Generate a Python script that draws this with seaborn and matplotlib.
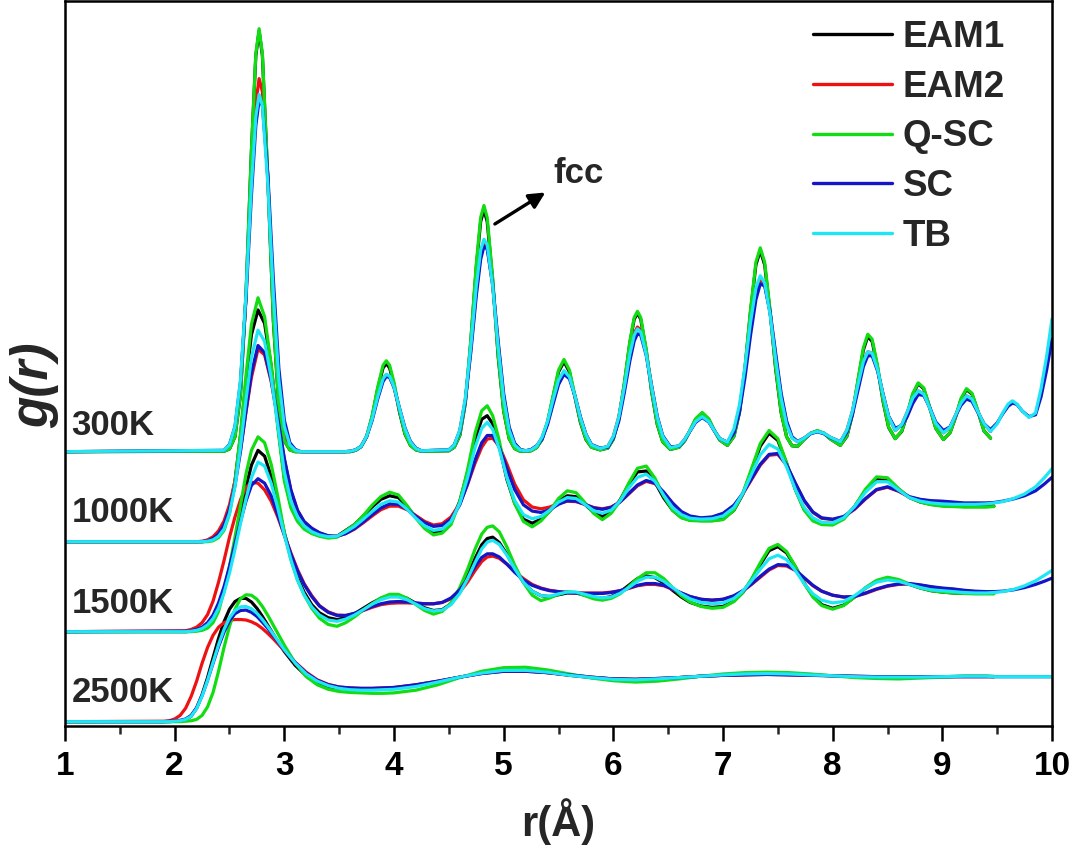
import numpy as np
import pandas as pd
import matplotlib
matplotlib.use("Agg")
import matplotlib.pyplot as plt
import seaborn as sns
from matplotlib.lines import Line2D

potentials = ["EAM1", "EAM2", "Q-SC", "SC", "TB"]
temperatures = ["300K", "1000K", "1500K", "2500K"]
offsets = {"300K": 6, "1000K": 4, "1500K": 2, "2500K": 0}
colors = {"EAM1": "#000000", "EAM2": "#ee1111", "Q-SC": "#12dc12",
          "SC": "#1515c8", "TB": "#1ee6f5"}

# ---------------- 300 K ----------------
r_300 = [1.0, 2.45, 2.5, 2.55, 2.6, 2.65, 2.7, 2.74, 2.77, 2.8, 2.85, 2.9, 2.95, 3.0, 3.05, 3.1, 3.15,
         3.55, 3.6, 3.65, 3.7, 3.75, 3.8, 3.85, 3.9, 3.93, 3.96, 4.0, 4.05, 4.1, 4.15, 4.2, 4.25,
         4.5, 4.55, 4.6, 4.65, 4.7, 4.75, 4.79, 4.82, 4.85, 4.9, 4.95, 5.0, 5.05, 5.1, 5.15, 5.2, 5.25, 5.3,
         5.35, 5.4, 5.45, 5.5, 5.55, 5.6, 5.65, 5.7, 5.75, 5.8, 5.88,
         5.95, 6.0, 6.05, 6.1, 6.15, 6.19, 6.22, 6.25, 6.3, 6.35, 6.4, 6.45, 6.52,
         6.6, 6.65, 6.7, 6.75, 6.81, 6.87, 6.92, 6.97, 7.04,
         7.1, 7.15, 7.2, 7.25, 7.3, 7.34, 7.38, 7.43, 7.48, 7.53, 7.58, 7.63, 7.68,
         7.74, 7.8, 7.86, 7.92, 7.98, 8.07,
         8.13, 8.18, 8.23, 8.28, 8.32, 8.36, 8.41, 8.46, 8.51, 8.57,
         8.63, 8.68, 8.73, 8.78, 8.83, 8.88, 8.94, 9.01,
         9.07, 9.12, 9.17, 9.22, 9.27, 9.32, 9.38, 9.44,
         9.5, 9.55, 9.6, 9.64, 9.68, 9.73, 9.79, 9.85, 9.9, 9.95, 10.0]

g300_eam1 = [0, 0.01, 0.06, 0.33, 1.26, 3.46, 6.68, 8.80, 9.35, 8.80, 6.02, 2.90, 0.99, 0.24, 0.04, 0.0, 0.0,
             0, 0.0, 0.03, 0.11, 0.33, 0.77, 1.38, 1.86, 1.96, 1.86, 1.49, 0.88, 0.39, 0.14, 0.04, 0.01,
             0.02, 0.10, 0.36, 1.07, 2.43, 4.09, 5.11, 5.38, 5.11, 3.79, 2.11, 0.90, 0.29, 0.07, 0.01, 0.01, 0.02, 0.09,
             0.27, 0.65, 1.21, 1.77, 2.00, 1.77, 1.21, 0.65, 0.27, 0.10, 0.04,
             0.08, 0.28, 0.73, 1.50, 2.41, 2.94, 3.08, 2.94, 2.24, 1.32, 0.61, 0.22, 0.05,
             0.10, 0.24, 0.47, 0.72, 0.86, 0.72, 0.47, 0.26, 0.14,
             0.34, 0.87, 1.84, 3.09, 4.15, 4.47, 4.15, 3.09, 1.84, 0.87, 0.33, 0.13, 0.12,
             0.27, 0.41, 0.46, 0.41, 0.28, 0.14,
             0.34, 0.83, 1.56, 2.26, 2.56, 2.45, 1.86, 1.11, 0.54, 0.29,
             0.45, 0.83, 1.27, 1.51, 1.40, 1.02, 0.52, 0.27,
             0.42, 0.76, 1.16, 1.38, 1.28, 0.93, 0.46, 0.30]

g300_eam2 = [0, 0.02, 0.11, 0.47, 1.47, 3.43, 6.03, 7.74, 8.29, 8.00, 6.03, 3.43, 1.47, 0.47, 0.11, 0.02, 0.0,
             0, 0.01, 0.04, 0.12, 0.34, 0.72, 1.21, 1.62, 1.71, 1.67, 1.43, 0.95, 0.50, 0.20, 0.07, 0.02,
             0.04, 0.15, 0.47, 1.15, 2.27, 3.57, 4.38, 4.64, 4.55, 3.69, 2.39, 1.23, 0.51, 0.17, 0.05, 0.02, 0.04, 0.12,
             0.31, 0.65, 1.12, 1.56, 1.78, 1.65, 1.24, 0.76, 0.38, 0.15, 0.07,
             0.12, 0.34, 0.78, 1.45, 2.19, 2.63, 2.77, 2.70, 2.19, 1.45, 0.78, 0.34, 0.09,
             0.13, 0.27, 0.47, 0.67, 0.78, 0.67, 0.47, 0.29, 0.21,
             0.46, 0.96, 1.76, 2.72, 3.51, 3.83, 3.72, 3.07, 2.12, 1.24, 0.64, 0.31, 0.22,
             0.30, 0.41, 0.45, 0.41, 0.32, 0.22,
             0.48, 0.90, 1.48, 2.00, 2.22, 2.19, 1.82, 1.26, 0.78, 0.47,
             0.60, 0.88, 1.19, 1.35, 1.28, 1.00, 0.63, 0.42,
             0.54, 0.81, 1.08, 1.24, 1.17, 0.91, 0.62, 0.45]

g300_qsc = [0, 0.01, 0.06, 0.33, 1.27, 3.48, 6.71, 8.84, 9.40, 8.84, 6.05, 2.92, 1.00, 0.24, 0.04, 0.0, 0.0,
            0, 0.0, 0.03, 0.11, 0.34, 0.79, 1.42, 1.92, 2.02, 1.92, 1.54, 0.91, 0.40, 0.14, 0.04, 0.01,
            0.02, 0.10, 0.37, 1.09, 2.47, 4.16, 5.20, 5.47, 5.20, 3.85, 2.14, 0.91, 0.29, 0.07, 0.01, 0.01, 0.02, 0.09,
            0.28, 0.67, 1.24, 1.81, 2.05, 1.81, 1.24, 0.67, 0.28, 0.10, 0.04,
            0.08, 0.28, 0.74, 1.52, 2.44, 2.98, 3.12, 2.98, 2.27, 1.34, 0.62, 0.22, 0.05,
            0.10, 0.24, 0.48, 0.73, 0.87, 0.73, 0.48, 0.26, 0.14,
            0.34, 0.88, 1.87, 3.13, 4.21, 4.53, 4.21, 3.13, 1.87, 0.88, 0.33, 0.13, 0.12,
            0.27, 0.41, 0.47, 0.41, 0.28, 0.14,
            0.35, 0.85, 1.59, 2.31, 2.61, 2.50, 1.90, 1.13, 0.55, 0.29,
            0.46, 0.84, 1.29, 1.53, 1.42, 1.03, 0.52, 0.27,
            0.42, 0.77, 1.18, 1.40, 1.30, 0.94, 0.46, 0.30]

g300_sc = [0, 0.03, 0.16, 0.56, 1.55, 3.38, 5.70, 7.25, 7.81, 7.69, 6.15, 3.82, 1.85, 0.70, 0.20, 0.05, 0.0,
           0, 0.01, 0.04, 0.12, 0.33, 0.69, 1.16, 1.56, 1.67, 1.65, 1.43, 0.97, 0.53, 0.23, 0.08, 0.02,
           0.04, 0.15, 0.45, 1.12, 2.20, 3.46, 4.27, 4.56, 4.50, 3.71, 2.45, 1.29, 0.55, 0.19, 0.05, 0.02, 0.05, 0.13,
           0.28, 0.60, 1.05, 1.49, 1.72, 1.62, 1.24, 0.77, 0.39, 0.16, 0.08,
           0.10, 0.30, 0.68, 1.31, 2.01, 2.46, 2.62, 2.59, 2.14, 1.45, 0.79, 0.36, 0.11,
           0.12, 0.26, 0.46, 0.65, 0.76, 0.66, 0.47, 0.29, 0.21,
           0.41, 0.88, 1.64, 2.57, 3.38, 3.73, 3.68, 3.10, 2.19, 1.30, 0.68, 0.33, 0.23,
           0.30, 0.40, 0.44, 0.40, 0.31, 0.22,
           0.43, 0.82, 1.36, 1.89, 2.13, 2.13, 1.79, 1.28, 0.79, 0.52,
           0.58, 0.78, 1.07, 1.27, 1.25, 1.01, 0.66, 0.47,
           0.55, 0.79, 1.03, 1.17, 1.12, 0.89, 0.62, 0.49,
           0.64, 0.84, 1.01, 1.08, 1.05, 0.90, 0.78, 0.82, 1.22, 1.80, 2.50]

g300_tb = [0, 0.03, 0.15, 0.56, 1.59, 3.50, 5.92, 7.45, 7.94, 7.69, 5.92, 3.50, 1.59, 0.56, 0.15, 0.03, 0.0,
           0, 0.01, 0.04, 0.12, 0.34, 0.72, 1.21, 1.62, 1.72, 1.68, 1.44, 0.96, 0.51, 0.21, 0.07, 0.02,
           0.04, 0.15, 0.48, 1.18, 2.33, 3.67, 4.48, 4.72, 4.60, 3.67, 2.33, 1.18, 0.48, 0.15, 0.04, 0.02, 0.04, 0.12,
           0.32, 0.67, 1.15, 1.59, 1.80, 1.66, 1.24, 0.75, 0.38, 0.15, 0.07,
           0.12, 0.34, 0.77, 1.43, 2.16, 2.59, 2.73, 2.66, 2.16, 1.43, 0.77, 0.34, 0.09,
           0.13, 0.27, 0.47, 0.67, 0.78, 0.67, 0.47, 0.29, 0.21,
           0.51, 1.04, 1.88, 2.86, 3.64, 3.91, 3.75, 3.04, 2.06, 1.19, 0.60, 0.30, 0.22,
           0.30, 0.41, 0.45, 0.41, 0.32, 0.22,
           0.48, 0.90, 1.48, 2.00, 2.22, 2.19, 1.82, 1.26, 0.78, 0.47,
           0.60, 0.88, 1.19, 1.35, 1.28, 1.00, 0.63, 0.42,
           0.54, 0.81, 1.08, 1.24, 1.17, 0.91, 0.62, 0.45,
           0.62, 0.86, 1.06, 1.13, 1.06, 0.90, 0.76, 0.86, 1.40, 2.10, 2.95]

# ---------------- 1000 K and 1500 K ----------------
r_hot = [1.0, 2.1, 2.15, 2.2, 2.25, 2.3, 2.35, 2.4, 2.45, 2.5, 2.55, 2.6, 2.65, 2.7,
         2.76, 2.82, 2.88, 2.94, 3.0, 3.06, 3.12, 3.18, 3.25, 3.32, 3.4, 3.48,
         3.56, 3.64, 3.72, 3.8, 3.88, 3.96, 4.04, 4.12, 4.2, 4.28, 4.36, 4.44, 4.52, 4.6,
         4.67, 4.74, 4.8, 4.85, 4.9, 4.96, 5.03, 5.1, 5.18, 5.26, 5.34, 5.42,
         5.5, 5.58, 5.66, 5.74, 5.82, 5.9, 5.98, 6.06, 6.14, 6.22, 6.3, 6.38,
         6.46, 6.54, 6.62, 6.7, 6.8, 6.9, 7.0, 7.1, 7.18, 7.26, 7.34, 7.42,
         7.5, 7.58, 7.66, 7.74, 7.82, 7.9, 8.0, 8.1, 8.2, 8.3, 8.4, 8.5,
         8.6, 8.7, 8.8, 8.9, 9.0, 9.1, 9.2, 9.3, 9.4, 9.47,
         9.55, 9.65, 9.75, 9.85, 9.93, 10.0]

g1000_eam1 = [0, 0, 0, 0, 0, 0.01, 0.04, 0.12, 0.3, 0.68, 1.35, 2.35, 3.55, 4.6,
              5.15, 4.85, 3.9, 2.6, 1.42, 0.8, 0.48, 0.31, 0.2, 0.14, 0.1, 0.12,
              0.25, 0.38, 0.57, 0.77, 0.94, 1.02, 0.98, 0.78, 0.53, 0.33, 0.2, 0.24, 0.43, 0.9,
              1.53, 2.28, 2.72, 2.8, 2.62, 2.12, 1.38, 0.86, 0.5, 0.41, 0.5, 0.68,
              0.9, 1.02, 1.0, 0.83, 0.65, 0.56, 0.67, 0.92, 1.27, 1.55, 1.57, 1.32,
              0.97, 0.7, 0.54, 0.48, 0.47, 0.47, 0.5, 0.7, 1.05, 1.58, 2.12, 2.41,
              2.25, 1.74, 1.16, 0.72, 0.48, 0.4, 0.39, 0.51, 0.78, 1.14, 1.4, 1.39,
              1.17, 0.98, 0.88, 0.83, 0.8, 0.79, 0.78, 0.78, 0.78, 0.79]

g1000_eam2 = [0, 0, 0, 0, 0.01, 0.04, 0.11, 0.24, 0.46, 0.82, 1.35, 2.05, 2.88, 3.65,
              4.28, 4.15, 3.56, 2.72, 1.83, 1.13, 0.69, 0.44, 0.29, 0.19, 0.13, 0.12,
              0.18, 0.28, 0.42, 0.57, 0.71, 0.79, 0.79, 0.71, 0.58, 0.45, 0.37, 0.4, 0.55, 0.85,
              1.27, 1.75, 2.1, 2.28, 2.3, 2.12, 1.72, 1.28, 0.93, 0.77, 0.73, 0.77,
              0.85, 0.9, 0.89, 0.83, 0.76, 0.73, 0.77, 0.88, 1.06, 1.24, 1.34, 1.29,
              1.09, 0.85, 0.66, 0.56, 0.52, 0.54, 0.62, 0.8, 1.06, 1.38, 1.7, 1.92,
              1.94, 1.7, 1.29, 0.91, 0.65, 0.52, 0.49, 0.55, 0.72, 0.95, 1.15, 1.21,
              1.12, 0.99, 0.93, 0.9, 0.89, 0.87, 0.85, 0.85, 0.85, 0.86]

g1000_qsc = [0, 0, 0, 0, 0, 0, 0.02, 0.09, 0.25, 0.62, 1.32, 2.39, 3.68, 4.83,
             5.42, 5.0, 3.94, 2.55, 1.35, 0.75, 0.45, 0.28, 0.18, 0.12, 0.08, 0.1,
             0.24, 0.38, 0.58, 0.81, 1.0, 1.1, 1.04, 0.8, 0.52, 0.29, 0.15, 0.19, 0.38, 0.89,
             1.59, 2.42, 2.91, 3.02, 2.8, 2.24, 1.42, 0.85, 0.45, 0.33, 0.46, 0.68,
             0.96, 1.13, 1.09, 0.87, 0.63, 0.49, 0.63, 0.9, 1.3, 1.63, 1.68, 1.41,
             1.01, 0.7, 0.53, 0.47, 0.46, 0.46, 0.49, 0.7, 1.07, 1.62, 2.18, 2.47,
             2.29, 1.75, 1.15, 0.7, 0.46, 0.38, 0.37, 0.5, 0.78, 1.17, 1.44, 1.42,
             1.18, 0.98, 0.88, 0.82, 0.79, 0.78, 0.77, 0.77, 0.77, 0.78]

g1000_sc = [0, 0, 0, 0, 0, 0.02, 0.07, 0.17, 0.37, 0.72, 1.25, 2.0, 2.9, 3.75,
            4.36, 4.2, 3.6, 2.75, 1.85, 1.15, 0.7, 0.45, 0.3, 0.2, 0.13, 0.12,
            0.18, 0.29, 0.44, 0.6, 0.75, 0.84, 0.83, 0.72, 0.56, 0.42, 0.34, 0.36, 0.5, 0.82,
            1.28, 1.82, 2.2, 2.36, 2.36, 2.1, 1.62, 1.16, 0.82, 0.68, 0.65, 0.71,
            0.83, 0.91, 0.9, 0.83, 0.75, 0.72, 0.76, 0.88, 1.07, 1.26, 1.36, 1.3,
            1.1, 0.86, 0.67, 0.57, 0.53, 0.55, 0.63, 0.81, 1.07, 1.4, 1.72, 1.94,
            1.96, 1.71, 1.3, 0.92, 0.66, 0.53, 0.5, 0.56, 0.73, 0.96, 1.16, 1.22,
            1.13, 1.0, 0.94, 0.91, 0.9, 0.88, 0.86, 0.86, 0.86, 0.87,
            0.9, 0.95, 1.02, 1.13, 1.28, 1.43]

g1000_tb = [0, 0, 0, 0, 0, 0.01, 0.04, 0.12, 0.28, 0.63, 1.22, 2.1, 3.15, 4.1,
            4.7, 4.45, 3.65, 2.6, 1.55, 0.9, 0.55, 0.35, 0.22, 0.15, 0.11, 0.12,
            0.22, 0.34, 0.5, 0.67, 0.83, 0.91, 0.88, 0.72, 0.52, 0.35, 0.25, 0.28, 0.45, 0.85,
            1.42, 2.1, 2.52, 2.65, 2.5, 2.06, 1.42, 0.92, 0.6, 0.51, 0.56, 0.7,
            0.88, 0.98, 0.96, 0.83, 0.69, 0.63, 0.7, 0.9, 1.19, 1.43, 1.5, 1.34,
            1.03, 0.76, 0.6, 0.52, 0.5, 0.51, 0.57, 0.76, 1.07, 1.5, 1.93, 2.16,
            2.06, 1.66, 1.16, 0.76, 0.53, 0.43, 0.42, 0.53, 0.78, 1.1, 1.33, 1.33,
            1.15, 0.98, 0.9, 0.86, 0.84, 0.83, 0.83, 0.83, 0.84, 0.86,
            0.89, 0.96, 1.06, 1.22, 1.42, 1.62]

g1500_eam1 = [0, 0, 0.01, 0.03, 0.07, 0.15, 0.3, 0.55, 0.92, 1.4, 1.98, 2.6, 3.2, 3.7,
              4.03, 3.9, 3.45, 2.85, 2.2, 1.65, 1.2, 0.88, 0.6, 0.42, 0.31, 0.27,
              0.31, 0.4, 0.52, 0.64, 0.74, 0.8, 0.8, 0.74, 0.63, 0.53, 0.47, 0.49, 0.62, 0.9,
              1.24, 1.63, 1.93, 2.07, 2.1, 1.98, 1.72, 1.4, 1.1, 0.9, 0.8, 0.78,
              0.82, 0.86, 0.86, 0.81, 0.76, 0.74, 0.78, 0.88, 1.03, 1.18, 1.24, 1.2,
              1.08, 0.92, 0.77, 0.65, 0.57, 0.54, 0.56, 0.68, 0.87, 1.15, 1.49, 1.8,
              1.89, 1.75, 1.44, 1.08, 0.79, 0.6, 0.52, 0.59, 0.77, 0.97, 1.12, 1.18,
              1.14, 1.05, 0.97, 0.91, 0.88, 0.86, 0.85, 0.85, 0.85, 0.85]

g1500_eam2 = [0, 0.02, 0.05, 0.1, 0.2, 0.38, 0.68, 1.1, 1.58, 2.1, 2.55, 2.93, 3.2, 3.32,
              3.3, 3.15, 2.9, 2.55, 2.15, 1.75, 1.38, 1.07, 0.8, 0.58, 0.44, 0.37,
              0.36, 0.4, 0.47, 0.54, 0.6, 0.63, 0.64, 0.64, 0.63, 0.62, 0.62, 0.65, 0.73, 0.88,
              1.1, 1.36, 1.56, 1.66, 1.68, 1.63, 1.5, 1.34, 1.18, 1.05, 0.97, 0.92,
              0.89, 0.87, 0.86, 0.86, 0.86, 0.86, 0.88, 0.91, 0.96, 1.02, 1.05, 1.05,
              1.02, 0.94, 0.86, 0.78, 0.72, 0.7, 0.72, 0.79, 0.9, 1.05, 1.21, 1.37,
              1.47, 1.46, 1.36, 1.19, 1.02, 0.9, 0.81, 0.77, 0.78, 0.85, 0.94, 1.01,
              1.05, 1.06, 1.03, 0.99, 0.96, 0.94, 0.91, 0.89, 0.88, 0.88]

g1500_qsc = [0, 0, 0, 0.01, 0.03, 0.08, 0.2, 0.45, 0.9, 1.45, 2.1, 2.8, 3.5, 4.03,
             4.33, 4.2, 3.72, 3.01, 2.2, 1.6, 1.15, 0.82, 0.52, 0.3, 0.16, 0.12,
             0.2, 0.33, 0.48, 0.62, 0.75, 0.83, 0.83, 0.74, 0.6, 0.47, 0.39, 0.45, 0.64, 0.98,
             1.38, 1.84, 2.17, 2.32, 2.35, 2.22, 1.88, 1.48, 1.09, 0.81, 0.69, 0.75,
             0.83, 0.89, 0.87, 0.8, 0.73, 0.7, 0.74, 0.84, 1.0, 1.18, 1.31, 1.31,
             1.18, 0.98, 0.8, 0.66, 0.56, 0.52, 0.54, 0.67, 0.87, 1.17, 1.53, 1.85,
             1.94, 1.78, 1.45, 1.07, 0.77, 0.58, 0.5, 0.58, 0.77, 0.98, 1.14, 1.21,
             1.16, 1.06, 0.97, 0.91, 0.88, 0.86, 0.85, 0.84, 0.84, 0.84]

g1500_sc = [0, 0.01, 0.02, 0.05, 0.1, 0.2, 0.37, 0.64, 1.0, 1.45, 1.95, 2.45, 2.9, 3.25,
            3.4, 3.3, 3.02, 2.6, 2.15, 1.72, 1.35, 1.05, 0.78, 0.57, 0.43, 0.36,
            0.36, 0.41, 0.48, 0.56, 0.62, 0.66, 0.67, 0.66, 0.64, 0.62, 0.62, 0.65, 0.75, 0.93,
            1.17, 1.45, 1.65, 1.73, 1.73, 1.66, 1.5, 1.32, 1.15, 1.03, 0.96, 0.91,
            0.89, 0.87, 0.86, 0.85, 0.85, 0.85, 0.87, 0.91, 0.97, 1.03, 1.07, 1.07,
            1.03, 0.95, 0.86, 0.78, 0.72, 0.7, 0.72, 0.8, 0.91, 1.06, 1.23, 1.39,
            1.49, 1.48, 1.37, 1.2, 1.03, 0.9, 0.81, 0.77, 0.78, 0.86, 0.95, 1.02,
            1.06, 1.07, 1.04, 1.0, 0.97, 0.95, 0.92, 0.9, 0.89, 0.89,
            0.9, 0.93, 0.98, 1.05, 1.12, 1.19]

g1500_tb = [0, 0, 0.01, 0.03, 0.07, 0.15, 0.29, 0.52, 0.86, 1.3, 1.83, 2.4, 2.95, 3.42,
            3.77, 3.68, 3.3, 2.75, 2.15, 1.6, 1.15, 0.82, 0.55, 0.37, 0.26, 0.23,
            0.28, 0.37, 0.49, 0.61, 0.71, 0.77, 0.77, 0.71, 0.61, 0.51, 0.46, 0.48, 0.6, 0.85,
            1.17, 1.54, 1.84, 1.99, 2.03, 1.94, 1.7, 1.4, 1.1, 0.9, 0.8, 0.79,
            0.84, 0.88, 0.88, 0.83, 0.78, 0.75, 0.77, 0.85, 0.98, 1.12, 1.21, 1.21,
            1.12, 0.98, 0.84, 0.73, 0.65, 0.62, 0.64, 0.74, 0.9, 1.13, 1.39, 1.62,
            1.7, 1.6, 1.36, 1.07, 0.84, 0.7, 0.64, 0.67, 0.8, 0.97, 1.1, 1.15,
            1.12, 1.05, 0.98, 0.93, 0.91, 0.89, 0.87, 0.86, 0.86, 0.87,
            0.89, 0.94, 1.02, 1.13, 1.25, 1.36]

# ---------------- 2500 K ----------------
r_2500 = [1.0, 1.9, 1.95, 2.0, 2.05, 2.1, 2.15, 2.2, 2.25, 2.3, 2.35, 2.4,
          2.45, 2.5, 2.55, 2.6, 2.65, 2.7, 2.75, 2.8, 2.85, 2.9, 2.95, 3.0,
          3.1, 3.2, 3.3, 3.4, 3.5, 3.6, 3.7, 3.8, 3.9, 4.0,
          4.2, 4.4, 4.6, 4.8, 5.0, 5.2, 5.4, 5.6, 5.8, 6.0,
          6.2, 6.4, 6.6, 6.8, 7.0, 7.2, 7.4, 7.6, 7.8, 8.0,
          8.2, 8.4, 8.6, 8.8, 9.0, 9.2, 9.4, 9.47,
          9.6, 9.8, 10.0]

g2500_eam1 = [0, 0, 0, 0.01, 0.02, 0.05, 0.12, 0.3, 0.6, 0.98, 1.42, 1.85,
              2.22, 2.5, 2.67, 2.74, 2.74, 2.66, 2.52, 2.34, 2.14, 1.94, 1.74, 1.56,
              1.25, 1.02, 0.87, 0.78, 0.74, 0.72, 0.72, 0.72, 0.73, 0.74,
              0.8, 0.89, 0.99, 1.08, 1.13, 1.13, 1.09, 1.03, 0.98, 0.95,
              0.94, 0.95, 0.98, 1.01, 1.03, 1.05, 1.06, 1.05, 1.04, 1.02,
              1.0, 0.99, 0.98, 0.99, 1.0, 1.01, 1.01, 1.0]

g2500_eam2 = [0, 0.01, 0.02, 0.06, 0.14, 0.3, 0.56, 0.9, 1.3, 1.65, 1.92, 2.1,
              2.2, 2.25, 2.27, 2.27, 2.26, 2.22, 2.16, 2.07, 1.96, 1.84, 1.71, 1.58,
              1.32, 1.1, 0.93, 0.83, 0.77, 0.75, 0.74, 0.74, 0.75, 0.76,
              0.82, 0.9, 0.99, 1.07, 1.12, 1.12, 1.09, 1.04, 0.99, 0.95,
              0.94, 0.96, 0.98, 1.01, 1.03, 1.04, 1.05, 1.04, 1.03, 1.02,
              1.01, 1.0, 1.0, 1.0, 1.0, 1.0, 1.0, 1.0]

g2500_qsc = [0, 0, 0, 0, 0, 0.01, 0.02, 0.05, 0.14, 0.33, 0.65, 1.12,
             1.65, 2.12, 2.5, 2.73, 2.82, 2.81, 2.72, 2.56, 2.36, 2.14, 1.92, 1.7,
             1.3, 1.0, 0.82, 0.72, 0.67, 0.65, 0.64, 0.63, 0.63, 0.64,
             0.7, 0.82, 0.98, 1.12, 1.2, 1.21, 1.15, 1.06, 0.97, 0.91,
             0.88, 0.9, 0.95, 1.01, 1.06, 1.09, 1.1, 1.09, 1.06, 1.02,
             0.98, 0.96, 0.95, 0.97, 0.99, 1.01, 1.01, 1.01]

g2500_sc = [0, 0, 0.01, 0.02, 0.03, 0.06, 0.14, 0.31, 0.58, 0.92, 1.3, 1.67,
            1.99, 2.24, 2.4, 2.47, 2.48, 2.43, 2.34, 2.21, 2.07, 1.91, 1.75, 1.59,
            1.31, 1.08, 0.92, 0.82, 0.77, 0.75, 0.74, 0.74, 0.75, 0.76,
            0.82, 0.9, 0.99, 1.07, 1.12, 1.12, 1.09, 1.04, 0.99, 0.95,
            0.94, 0.96, 0.98, 1.01, 1.03, 1.04, 1.05, 1.04, 1.03, 1.02,
            1.01, 1.0, 1.0, 1.0, 1.0, 1.0, 1.0, 1.0,
            1.0, 1.0, 1.0]

g2500_tb = [0, 0, 0, 0.01, 0.02, 0.05, 0.12, 0.29, 0.57, 0.92, 1.32, 1.71,
            2.05, 2.31, 2.47, 2.55, 2.56, 2.51, 2.41, 2.27, 2.11, 1.94, 1.77, 1.6,
            1.3, 1.06, 0.9, 0.8, 0.74, 0.71, 0.7, 0.7, 0.71, 0.72,
            0.78, 0.88, 0.99, 1.08, 1.14, 1.14, 1.1, 1.03, 0.98, 0.94,
            0.93, 0.95, 0.98, 1.01, 1.04, 1.06, 1.07, 1.06, 1.04, 1.02,
            1.0, 0.99, 0.99, 0.99, 1.0, 1.01, 1.01, 1.0,
            1.0, 1.0, 1.0]

curves = [
    ("300K", "EAM1", r_300, g300_eam1), ("300K", "EAM2", r_300, g300_eam2),
    ("300K", "Q-SC", r_300, g300_qsc), ("300K", "SC", r_300, g300_sc),
    ("300K", "TB", r_300, g300_tb),
    ("1000K", "EAM1", r_hot, g1000_eam1), ("1000K", "EAM2", r_hot, g1000_eam2),
    ("1000K", "Q-SC", r_hot, g1000_qsc), ("1000K", "SC", r_hot, g1000_sc),
    ("1000K", "TB", r_hot, g1000_tb),
    ("1500K", "EAM1", r_hot, g1500_eam1), ("1500K", "EAM2", r_hot, g1500_eam2),
    ("1500K", "Q-SC", r_hot, g1500_qsc), ("1500K", "SC", r_hot, g1500_sc),
    ("1500K", "TB", r_hot, g1500_tb),
    ("2500K", "EAM1", r_2500, g2500_eam1), ("2500K", "EAM2", r_2500, g2500_eam2),
    ("2500K", "Q-SC", r_2500, g2500_qsc), ("2500K", "SC", r_2500, g2500_sc),
    ("2500K", "TB", r_2500, g2500_tb),
]

rows = []
for T, pot, r, g in curves:
    n = min(len(r), len(g))
    for i in range(n):
        rows.append({"r": r[i], "y": g[i] + offsets[T], "potential": pot, "T": T})
df = pd.DataFrame(rows)

sns.set_style("white")
plt.rcParams["font.family"] = ["Liberation Sans", "DejaVu Sans"]

W, H = 1077, 852
fig = plt.figure(figsize=(W / 100, H / 100), dpi=100)
ax = fig.add_axes([65 / W, 1 - 726 / H, (1052 - 65) / W, 725 / H])

sns.lineplot(data=df, x="r", y="y", hue="potential", hue_order=potentials,
             units="T", estimator=None, sort=False, palette=colors,
             linewidth=2.3, legend=False, ax=ax)

ax.set_xlim(1, 10)
ax.set_ylim(-0.096, 16.015)
ax.set_yticks([])
ax.set_xticks(range(1, 11))
ax.set_xticks(np.arange(1.5, 10, 1.0), minor=True)
ax.tick_params(axis="x", which="major", direction="out", length=10.8, width=1.8,
               pad=7, labelsize=24, bottom=True, top=False, colors="black")
ax.tick_params(axis="x", which="minor", direction="out", length=5.5, width=1.8,
               bottom=True, top=False)
for lab in ax.get_xticklabels():
    lab.set_fontweight("bold")
for s in ax.spines.values():
    s.set_linewidth(1.8)
    s.set_color("black")

ax.set_xlabel("r(Å)", fontsize=30, fontweight="bold", labelpad=12)
ax.set_ylabel("g(r)", fontsize=37, fontweight="bold", fontstyle="italic")
ax.yaxis.set_label_coords(-0.006, 0.47)

temp_label_y = {"300K": 6.37, "1000K": 4.44, "1500K": 2.42, "2500K": 0.44}
for T in temperatures:
    ax.text(1.06, temp_label_y[T], T, fontsize=25, fontweight="bold",
            ha="left", va="baseline")

ax.text(5.45, 11.97, "fcc", fontsize=25, fontweight="bold", ha="left", va="baseline")
ax.annotate("", xy=(5.38, 11.76), xytext=(4.92, 11.06),
            arrowprops=dict(arrowstyle="-|>", lw=2.4, color="black",
                            mutation_scale=24, shrinkA=0, shrinkB=0))

handles = [Line2D([0], [0], color=colors[p], lw=2.4) for p in potentials]
ax.legend(handles, potentials, loc="upper left",
          bbox_to_anchor=((813 - 65) / 987, (726 - 20) / 725),
          frameon=False, prop={"weight": "bold", "size": 26.5},
          handlelength=2.15, handletextpad=0.28, labelspacing=0.40,
          borderpad=0, borderaxespad=0)

fig.savefig("out.png", dpi=100)
